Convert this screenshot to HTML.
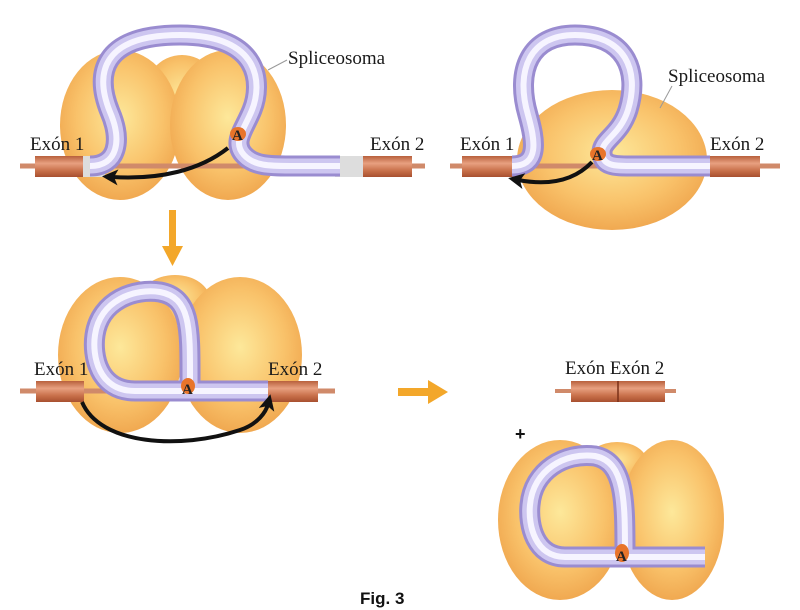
<!DOCTYPE html>
<html><head><meta charset="utf-8"><style>
html,body{margin:0;padding:0;background:#fff;}
svg{display:block}
.lbl{font-family:"Liberation Serif",serif;font-size:19px;fill:#1a1a1a;}
.t1{fill:none;stroke:#9a8cd0;stroke-width:21}
.t2{fill:none;stroke:#cdc6f0;stroke-width:15}
.t3{fill:none;stroke:#f6f4ff;stroke-width:6}
</style></head><body>
<svg width="800" height="610" viewBox="0 0 800 610" xmlns="http://www.w3.org/2000/svg">
<defs>
<radialGradient id="og" cx="50%" cy="45%" r="60%">
<stop offset="0" stop-color="#fde89a"/><stop offset="0.6" stop-color="#f9c26a"/><stop offset="1" stop-color="#eea24a"/>
</radialGradient>
<linearGradient id="ex" x1="0" y1="0" x2="0" y2="1">
<stop offset="0" stop-color="#b8603c"/><stop offset="0.35" stop-color="#e8a080"/><stop offset="0.7" stop-color="#c8704a"/><stop offset="1" stop-color="#a85030"/>
</linearGradient>
<marker id="ah2" markerWidth="16" markerHeight="16" refX="6" refY="8" orient="auto" markerUnits="userSpaceOnUse" viewBox="0 0 16 16">
<path d="M0,0 L16,8 L0,16 L4,8 z" fill="#111"/>
</marker>
</defs>

<!-- Panel 1 -->
<ellipse cx="182" cy="100" rx="40" ry="45" fill="url(#og)"/>
<ellipse cx="120" cy="125" rx="60" ry="75" fill="url(#og)"/>
<ellipse cx="228" cy="125" rx="58" ry="75" fill="url(#og)"/>
<line x1="20" y1="166" x2="425" y2="166" stroke="#d08a6a" stroke-width="5"/>
<rect x="35" y="156" width="50" height="21" fill="url(#ex)"/>
<rect x="362" y="156" width="50" height="21" fill="url(#ex)"/>
<rect x="83" y="156" width="22" height="21" fill="#ddd"/>
<rect x="335" y="156" width="28" height="21" fill="#ddd"/>
<g>
<path class="t1" d="M90,166 C118,166 122,140 110,112 C95,75 100,35 180,35 C262,35 262,85 252,110 C244,130 232,142 244,155 C254,166 270,166 290,166 L340,166"/>
<path class="t2" d="M90,166 C118,166 122,140 110,112 C95,75 100,35 180,35 C262,35 262,85 252,110 C244,130 232,142 244,155 C254,166 270,166 290,166 L340,166"/>
<path class="t3" d="M90,166 C118,166 122,140 110,112 C95,75 100,35 180,35 C262,35 262,85 252,110 C244,130 232,142 244,155 C254,166 270,166 290,166 L340,166"/>
</g>
<ellipse cx="238" cy="134" rx="8" ry="7" fill="#e8742a"/>
<text x="232" y="140" style="font-family:'Liberation Serif',serif;font-size:15px;font-weight:bold" fill="#222">A</text>
<path d="M228,148 C200,170 160,180 112,177" fill="none" stroke="#111" stroke-width="4" marker-end="url(#ah2)"/>
<text class="lbl" x="30" y="150">Exón 1</text>
<text class="lbl" x="370" y="150">Exón 2</text>
<text class="lbl" x="288" y="64">Spliceosoma</text>
<line x1="287" y1="60" x2="268" y2="70" stroke="#999" stroke-width="1"/>

<!-- Panel 2 -->
<ellipse cx="612" cy="160" rx="95" ry="70" fill="url(#og)"/>
<line x1="450" y1="166" x2="780" y2="166" stroke="#d08a6a" stroke-width="5"/>
<rect x="462" y="156" width="52" height="21" fill="url(#ex)"/>
<rect x="710" y="156" width="50" height="21" fill="url(#ex)"/>
<g>
<path class="t1" d="M512,166 C540,166 535,140 528,115 C515,70 530,35 575,35 C625,35 640,70 628,110 C620,135 602,140 602,152 C602,166 615,166 630,166 L710,166"/>
<path class="t2" d="M512,166 C540,166 535,140 528,115 C515,70 530,35 575,35 C625,35 640,70 628,110 C620,135 602,140 602,152 C602,166 615,166 630,166 L710,166"/>
<path class="t3" d="M512,166 C540,166 535,140 528,115 C515,70 530,35 575,35 C625,35 640,70 628,110 C620,135 602,140 602,152 C602,166 615,166 630,166 L710,166"/>
</g>
<ellipse cx="598" cy="154" rx="8" ry="7" fill="#e8742a"/>
<text x="592" y="160" style="font-family:'Liberation Serif',serif;font-size:15px;font-weight:bold" fill="#222">A</text>
<path d="M592,162 C575,180 550,186 518,180" fill="none" stroke="#111" stroke-width="4" marker-end="url(#ah2)"/>
<text class="lbl" x="460" y="150">Exón 1</text>
<text class="lbl" x="710" y="150">Exón 2</text>
<text class="lbl" x="668" y="82">Spliceosoma</text>
<line x1="672" y1="86" x2="660" y2="108" stroke="#999" stroke-width="1"/>

<!-- down arrow -->
<rect x="169" y="210" width="7" height="40" fill="#f3a72a"/>
<path d="M162,246 L183,246 L172.5,266 z" fill="#f3a72a"/>

<!-- Panel 3 -->
<ellipse cx="175" cy="300" rx="35" ry="25" fill="url(#og)"/>
<ellipse cx="120" cy="355" rx="62" ry="78" fill="url(#og)"/>
<ellipse cx="240" cy="355" rx="62" ry="78" fill="url(#og)"/>
<line x1="20" y1="391" x2="335" y2="391" stroke="#d08a6a" stroke-width="5"/>
<rect x="36" y="381" width="48" height="21" fill="url(#ex)"/>
<rect x="268" y="381" width="50" height="21" fill="url(#ex)"/>
<g>
<path class="t1" d="M268,391 L135,391 C98,391 92,355 95,335 C100,300 135,288 160,292 C192,298 190,330 190,388"/>
<path class="t2" d="M268,391 L135,391 C98,391 92,355 95,335 C100,300 135,288 160,292 C192,298 190,330 190,388"/>
<path class="t3" d="M268,391 L135,391 C98,391 92,355 95,335 C100,300 135,288 160,292 C192,298 190,330 190,388"/>
</g>
<ellipse cx="188" cy="386" rx="7" ry="8" fill="#e8742a"/>
<text x="182" y="394" style="font-family:'Liberation Serif',serif;font-size:15px;font-weight:bold" fill="#222">A</text>
<path d="M82,402 C100,445 180,450 240,430 C258,424 266,412 268,404" fill="none" stroke="#111" stroke-width="4" marker-end="url(#ah2)"/>
<text class="lbl" x="34" y="375">Exón 1</text>
<text class="lbl" x="268" y="375">Exón 2</text>

<!-- right arrow -->
<rect x="398" y="388" width="32" height="8" fill="#f3a72a"/>
<path d="M428,380 L448,392 L428,404 z" fill="#f3a72a"/>

<!-- Panel 4 -->
<line x1="555" y1="391" x2="676" y2="391" stroke="#d08a6a" stroke-width="4"/>
<rect x="571" y="381" width="94" height="21" fill="url(#ex)"/>
<line x1="618" y1="381" x2="618" y2="402" stroke="#7a3018" stroke-width="1.5"/>
<text class="lbl" x="565" y="374">Exón Exón 2</text>
<text x="515" y="440" style="font-family:'Liberation Sans',sans-serif;font-size:18px;font-weight:bold" fill="#111">+</text>
<ellipse cx="617" cy="462" rx="30" ry="20" fill="url(#og)"/>
<ellipse cx="560" cy="520" rx="62" ry="80" fill="url(#og)"/>
<ellipse cx="672" cy="520" rx="52" ry="80" fill="url(#og)"/>
<g>
<path class="t1" d="M705,557 L565,557 C535,557 528,525 530,505 C533,470 565,452 595,456 C625,462 625,500 625,555"/>
<path class="t2" d="M705,557 L565,557 C535,557 528,525 530,505 C533,470 565,452 595,456 C625,462 625,500 625,555"/>
<path class="t3" d="M705,557 L565,557 C535,557 528,525 530,505 C533,470 565,452 595,456 C625,462 625,500 625,555"/>
</g>
<ellipse cx="622" cy="553" rx="7" ry="9" fill="#e8742a"/>
<text x="616" y="561" style="font-family:'Liberation Serif',serif;font-size:15px;font-weight:bold" fill="#222">A</text>

<text x="360" y="604" style="font-family:'Liberation Sans',sans-serif;font-size:17px;font-weight:bold" fill="#111">Fig. 3</text>
</svg>
</body></html>
